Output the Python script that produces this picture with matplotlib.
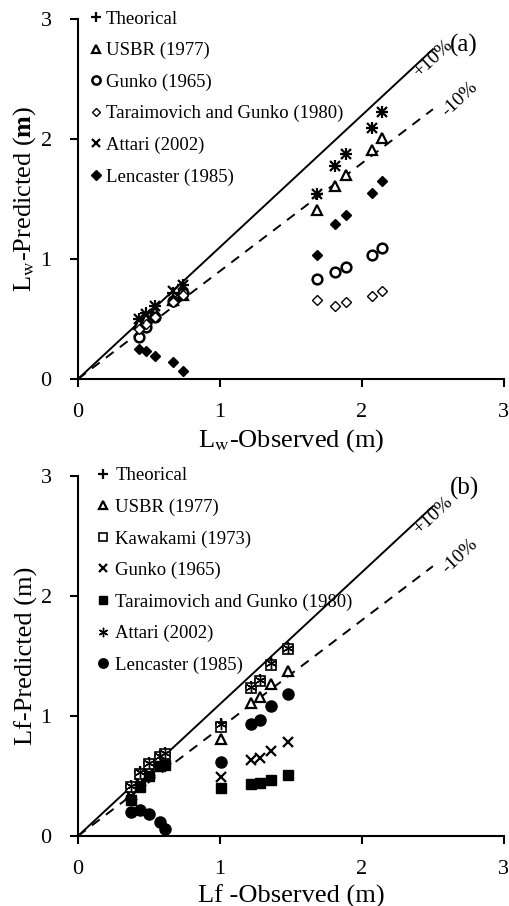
import matplotlib
matplotlib.use("Agg")
import matplotlib.pyplot as plt
import numpy as np

plt.rcParams['font.family'] = ['Liberation Serif', 'DejaVu Serif']
plt.rcParams['mathtext.fontset'] = 'stix'

# ---------------- Panel (a): Lw ----------------
a_obs = [0.43, 0.48, 0.54, 0.67, 0.74, 1.68, 1.81, 1.89, 2.07, 2.14]
a_theorical = [0.50, 0.55, 0.61, 0.72, 0.78, 1.54, 1.78, 1.88, 2.09, 2.23]
a_usbr = [0.46, 0.50, 0.56, 0.66, 0.70, 1.41, 1.61, 1.70, 1.91, 2.01]
a_gunko = [0.35, 0.43, 0.52, 0.65, 0.72, 0.83, 0.89, 0.93, 1.03, 1.09]
a_taraimovich = [0.42, 0.46, 0.52, 0.64, 0.70, 0.66, 0.61, 0.64, 0.69, 0.73]
a_attari = [0.50, 0.54, 0.61, 0.73, 0.78, 1.54, 1.78, 1.88, 2.09, 2.23]
a_lencaster = [0.25, 0.23, 0.19, 0.14, 0.07, 1.03, 1.29, 1.37, 1.55, 1.65]

# ---------------- Panel (b): Lf ----------------
b_obs = [0.37, 0.44, 0.50, 0.58, 0.61, 1.01, 1.22, 1.28, 1.36, 1.48]
b_theorical = [0.42, 0.53, 0.61, 0.67, 0.69, 0.93, 1.24, 1.30, 1.44, 1.57]
b_usbr = [0.35, 0.47, 0.55, 0.62, 0.65, 0.81, 1.11, 1.16, 1.27, 1.38]
b_kawakami = [0.41, 0.52, 0.60, 0.66, 0.68, 0.91, 1.23, 1.29, 1.43, 1.56]
b_gunko = [0.33, 0.44, 0.52, 0.58, 0.60, 0.49, 0.63, 0.65, 0.71, 0.78]
b_taraimovich = [0.30, 0.41, 0.50, 0.58, 0.59, 0.40, 0.43, 0.44, 0.47, 0.51]
b_attari = [0.42, 0.53, 0.61, 0.67, 0.69, 0.93, 1.24, 1.30, 1.44, 1.57]
b_lencaster = [0.20, 0.22, 0.18, 0.12, 0.06, 0.62, 0.93, 0.97, 1.08, 1.18]

line_x = [0, 2.5]
plus10 = 1.1
minus10 = 0.9
ticks = [0, 1, 2, 3]

fig = plt.figure(figsize=(5.1, 9.06), dpi=100)
axA = fig.add_axes([0.153, 0.5817, 0.835, 0.397])
axB = fig.add_axes([0.153, 0.0773, 0.835, 0.397])

ms = 7
mew = 1.6

def style(ax):
    ax.set_xlim(0, 3)
    ax.set_ylim(0, 3)
    ax.set_xticks(ticks)
    ax.set_yticks(ticks)
    for s in ['top', 'right']:
        ax.spines[s].set_visible(False)
    for s in ['left', 'bottom']:
        ax.spines[s].set_linewidth(1.5)
    ax.tick_params(direction='out', length=6, width=1.5, labelsize=16)
    ax.tick_params(axis='x', pad=11)
    ax.tick_params(axis='y', pad=13)
    ax.plot(line_x, [plus10 * v for v in line_x], color='black', lw=1.4, zorder=1)
    ax.plot(line_x, [minus10 * v for v in line_x], color='black', lw=1.4,
            ls=(0, (5, 4)), zorder=1)

def leg(ax, x0, y0, tpad):
    ax.legend(loc='upper left', bbox_to_anchor=(x0, y0), frameon=False,
              fontsize=13.5, handletextpad=tpad, handlelength=0.8,
              labelspacing=0.76, borderaxespad=0, borderpad=0, markerscale=0.85)

# Panel (a)
style(axA)
axA.plot(a_obs, a_theorical, ls='none', marker='+', ms=ms + 1, mew=mew, color='black', label='Theorical')
axA.plot(a_obs, a_usbr, ls='none', marker='^', ms=ms, mew=mew, mfc='white', mec='black', label='USBR (1977)')
axA.plot(a_obs, a_gunko, ls='none', marker='o', ms=ms, mew=mew + 0.2, mfc='none', mec='black', label='Gunko (1965)')
axA.plot(a_obs, a_taraimovich, ls='none', marker='D', ms=5, mew=1.0, mfc='white', mec='black', label='Taraimovich and Gunko (1980)')
axA.plot(a_obs, a_attari, ls='none', marker='x', ms=ms, mew=mew, color='black', label='Attari (2002)')
axA.plot(a_obs, a_lencaster, ls='none', marker='D', ms=5.5, mew=1.0, color='black', label='Lencaster (1985)')
leg(axA, 0.025, 1.024, 0.1)
axA.set_xlabel(r'L$_\mathrm{w}$-Observed (m)', fontsize=19, labelpad=4)
axA.set_ylabel(r'L$_\mathrm{w}$-Predicted ($\mathbf{m}$)', fontsize=19, labelpad=2)
axA.text(2.5, 2.67, '+10%', rotation=43, ha='center', va='center', fontsize=14)
axA.text(2.69, 2.33, '-10%', rotation=43, ha='center', va='center', fontsize=14)
axA.text(2.72, 2.78, '(a)', ha='center', va='center', fontsize=18)

# Panel (b)
style(axB)
axB.plot(b_obs, b_theorical, ls='none', marker='+', ms=ms + 1, mew=mew, color='black', label='Theorical')
axB.plot(b_obs, b_usbr, ls='none', marker='^', ms=ms, mew=mew, mfc='white', mec='black', label='USBR (1977)')
axB.plot(b_obs, b_kawakami, ls='none', marker='s', ms=ms, mew=1.2, mfc='white', mec='black', label='Kawakami (1973)')
axB.plot(b_obs, b_gunko, ls='none', marker='x', ms=ms, mew=mew, color='black', label='Gunko (1965)')
axB.plot(b_obs, b_taraimovich, ls='none', marker='s', ms=ms, color='black', label='Taraimovich and Gunko (1980)')
axB.plot(b_obs, b_attari, ls='none', marker=(6, 2, 0), ms=ms + 1, mew=1.0, color='black', label='Attari (2002)')
axB.plot(b_obs, b_lencaster, ls='none', marker='o', ms=ms + 1, color='black', label='Lencaster (1985)')
leg(axB, 0.041, 1.025, 0.25)
axB.set_xlabel('Lf -Observed (m)', fontsize=19, labelpad=4)
axB.set_ylabel('Lf-Predicted (m)', fontsize=19, labelpad=2)
axB.text(2.5, 2.67, '+10%', rotation=43, ha='center', va='center', fontsize=14)
axB.text(2.69, 2.33, '-10%', rotation=43, ha='center', va='center', fontsize=14)
axB.text(2.72, 2.9, '(b)', ha='center', va='center', fontsize=18)

fig.savefig('out.png', dpi=100)
